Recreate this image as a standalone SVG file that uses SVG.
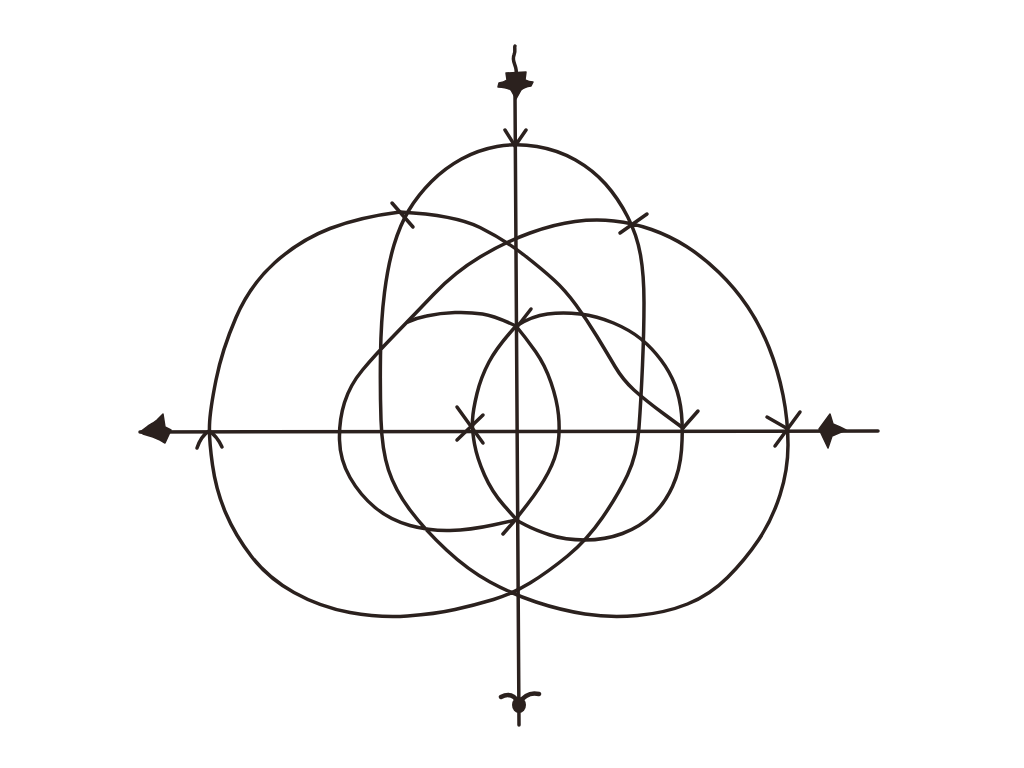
<svg xmlns="http://www.w3.org/2000/svg" width="1024" height="768" viewBox="0 0 1024 768">
<style>
.ln{fill:none;stroke:#2b211e;stroke-width:3.5;stroke-linecap:round;stroke-linejoin:round}
.hd{fill:#2b211e;stroke:#2b211e;stroke-width:1.5;stroke-linejoin:round}
</style>
<rect width="1024" height="768" fill="#ffffff"/>
<g id="axes">
<path class="ln" d="M140,432 L878,431"/>
<path class="ln" d="M515,95 L519,725"/>
<path class="ln" d="M516,75 C518,66 511,62 514,55 C516,50 514,48 515,46"/>
<path class="hd" d="M506,73 L526,72 L525,80 Q529,82 533,82 L531,86 Q524,87 521,90 L516,99 L511,90 Q506,87 498,87 L499,83 Q504,82 507,80 Z"/>
<path class="hd" d="M140,432 L148,426 L153,423 L157,420 L163,414 L165,427 L171,430 L165,443 L160,440 L153,437 L143,434 Z"/>
<path class="hd" d="M819,429 L830,414 L833,424 L840,427 L846,430 L832,436 L828,448 Z"/>
<path class="ln" style="stroke-width:4.5" d="M501,697 Q512,691 519,703 Q527,691 539,694"/>
<ellipse cx="519" cy="705" rx="7" ry="8" fill="#2b211e"/>
</g>
<g id="connectors">
<path class="ln" d="M400,212 Q360,217 330,228.5 Q300,240 275,262.5 Q250,285 236,317.5 Q222,350 216,380 Q210,410 209.5,425 Q209,440 212.5,465 Q216,490 225.5,512.5 Q235,535 251.5,556.5 Q268,578 294,592.5 Q320,607 350,612.5 Q380,618 407.5,616 Q435,614 455,609.5 Q475,605 493.5,599.5 Q512,594 530,583 Q548,572 567.5,556 Q587,540 602.5,517.5 Q618,495 627.5,475 Q637,455 639,427.5 Q641,400 642.5,365 Q644,330 644,302.5 Q644,275 640.5,255 Q637,235 627.5,216.5 Q618,198 605.5,184 Q593,170 575.5,160 Q558,150 537,146.5 Q516,143 497,146.5 Q478,150 461.5,159 Q445,168 431.5,181.5 Q418,195 409,210 Q400,225 394,245 Q388,265 384.5,292.5 Q381,320 380.5,355 Q380,390 381,420 Q382,450 388.5,470 Q395,490 410,510 Q425,530 446.5,550 Q468,570 490,582 Q512,594 536,602 Q560,610 585,614 Q610,618 637.5,615.5 Q665,613 687.5,604 Q710,595 727.5,577.5 Q745,560 758.5,540 Q772,520 780,495 Q788,470 788,445 Q788,420 783,395 Q778,370 769,347.5 Q760,325 747.5,306.5 Q735,288 719,272.5 Q703,257 686.5,246.5 Q670,236 651.5,229.5 Q633,223 614,221 Q595,219 575,221.5 Q555,224 530,233 Q505,242 480,257 Q455,272 434,294 Q413,316 394,335.5 Q375,355 362.5,370 Q350,385 344.5,402.5 Q339,420 339.5,440 Q340,460 350,477.5 Q360,495 375,507.5 Q390,520 410,525.5 Q430,531 450,530.5 Q470,530 493,525 L516,520"/>
<path class="ln" d="M400,212 Q455,215 480,227.5 Q505,240 524,255 Q543,270 554,280 Q565,290 576,305 Q587,320 597,336.5 Q607,353 615,366.5 Q623,380 634,390 Q645,400 664,414 L683,428"/>
<path class="ln" d="M516,326 Q532,316 547.5,314 Q563,312 580,314 Q597,316 613.5,323 Q630,330 641,339 Q652,348 661,360 Q670,372 675,385 Q680,398 681.5,414 Q683,430 681.5,450 Q680,470 672.5,486.5 Q665,503 652.5,515 Q640,527 622.5,533.5 Q605,540 585,540 Q565,540 550,535 Q535,530 525.5,525 L516,520"/>
<path class="ln" d="M516,326 Q495,316 482.5,314 Q470,312 455,312.5 Q440,313 426.5,316 Q416,318 408,322"/>
<path class="ln" d="M516,326 Q497,347 489,362 Q481,377 477,393.5 Q473,410 472.5,420 Q472,430 474.5,444 Q477,458 484.5,475 Q492,492 504,505.5 L516,519"/>
<path class="ln" d="M516,326 Q526,338 535.5,351.5 Q545,365 551,382.5 Q557,400 558.5,415 Q560,430 558,444 Q556,458 548,473 Q540,488 528,503.5 L516,519"/>
</g>
<g id="marks">
<path class="ln" d="M505,130 L515,146 L526,130"/>
<path class="ln" d="M392,203 L413,227"/>
<path class="ln" d="M620,233 L647,214"/>
<path class="ln" d="M197,448 Q201,436 209,431 Q217,436 222,447"/>
<path class="ln" d="M457,407 L483,443 M483,415 L457,440"/>
<path class="ln" d="M517,327 L531,309"/>
<path class="ln" d="M517,518 L503,534"/>
<path class="ln" d="M683,428 L698,411"/>
<path class="ln" d="M767,417 L788,429 M775,446 L800,412"/>
</g>
</svg>
